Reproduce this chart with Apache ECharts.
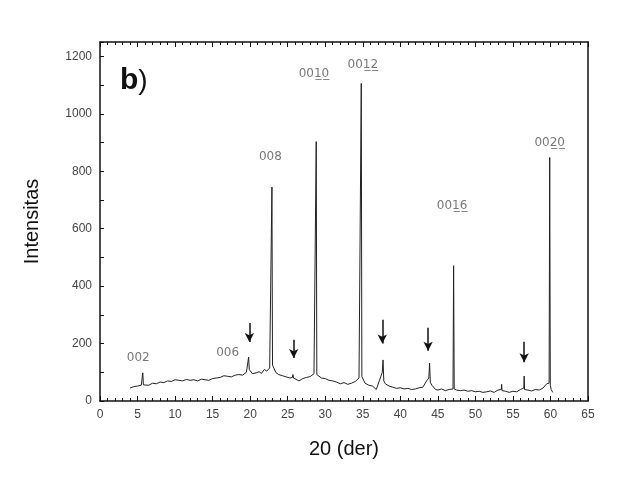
<!DOCTYPE html>
<html>
<head>
<meta charset="utf-8">
<script src="https://cdn.jsdelivr.net/npm/echarts@6/dist/echarts.min.js"></script>
<style>
html, body { margin: 0; padding: 0; background: #fff; }
#main { width: 634px; height: 485px; }
</style>
</head>
<body>
<div id="main"></div>
<script>
// pola difraksi (2theta, intensitas)
var xrdAngle = [4.0, 4.5, 5.0, 5.5, 5.62, 5.7, 5.78, 6.0, 6.5, 7.0, 7.5, 8.0, 8.5, 9.0, 9.5, 10.0, 10.5, 11.0, 11.5, 12.0,
    12.5, 13.0, 13.5, 14.0, 14.5, 15.0, 15.5, 16.0, 16.5, 17.0, 17.5, 18.0, 18.5, 19.0, 19.5, 19.72, 19.8, 19.88, 20.3, 20.8,
    21.2, 21.5, 21.9, 22.2, 22.6, 22.82, 22.9, 22.98, 23.4, 23.8, 24.3, 24.8, 25.3, 25.62, 25.7, 25.78, 26.0, 26.5, 27.0, 27.5,
    28.0, 28.5, 28.72, 28.8, 28.88, 29.5, 30.0, 30.5, 31.0, 31.5, 32.0, 32.5, 33.0, 33.5, 34.0, 34.5, 34.72, 34.8, 34.88, 35.3,
    35.8, 36.3, 36.8, 37.2, 37.6, 37.7, 37.8, 38.0, 38.5, 39.0, 39.5, 40.0, 40.5, 41.0, 41.5, 42.0, 42.5, 43.0, 43.5, 43.8,
    43.9, 44.0, 44.2, 44.7, 45.0, 45.5, 46.0, 46.5, 47.02, 47.1, 47.18, 47.5, 48.0, 48.5, 49.0, 49.5, 50.0, 50.5, 51.0, 51.5,
    52.0, 52.5, 53.0, 53.45, 53.5, 53.55, 54.0, 54.5, 55.0, 55.5, 56.0, 56.45, 56.5, 56.55, 57.0, 57.5, 58.0, 58.5, 59.0, 59.5,
    59.82, 59.9, 59.98, 60.1, 60.3];
var xrdIntensity = [45, 50, 52, 55, 56, 98, 56, 58, 55, 62, 60, 66, 64, 70, 68, 74, 72, 70, 75, 72,
    74, 70, 76, 74, 72, 78, 80, 82, 88, 86, 84, 90, 92, 90, 100, 105, 153, 110, 95, 98,
    102, 96, 110, 104, 115, 120, 745, 125, 100, 92, 88, 84, 80, 82, 92, 80, 75, 70, 78, 82,
    85, 95, 98, 903, 92, 80, 78, 72, 70, 66, 60, 64, 58, 62, 68, 80, 85, 1106, 85, 62,
    55, 52, 40, 70, 100, 143, 70, 60, 52, 48, 44, 46, 42, 44, 40, 42, 46, 48, 70, 80,
    132, 65, 55, 40, 38, 42, 36, 40, 42, 471, 42, 38, 36, 38, 34, 36, 32, 34, 30, 32,
    35, 30, 38, 40, 58, 36, 34, 30, 34, 32, 40, 45, 87, 40, 38, 35, 40, 38, 45, 60,
    62, 848, 55, 40, 30];

// label puncak (00l)
var peakNames = ['002', '006', '008', '0010', '0012', '0016', '0020'];
var peakLabelX = [5.1, 17.0, 22.7, 28.5, 35.0, 46.9, 59.9];
var peakLabelY = [150, 168, 850, 1140, 1170, 680, 900];

// panah (fasa lain)
var arrowX = [19.9, 25.8, 37.6, 43.7, 56.5];
var arrowTop = [272, 213, 283, 255, 206];
var arrowBottom = [205, 150, 200, 175, 135];

var yTicks = [0, 200, 400, 600, 800, 1000, 1200];

function underline(s) {
    // dua digit terakhir bergaris bawah
    if (s.length < 4) return s;
    var head = s.substring(0, 2), tail = s.substring(2);
    var out = head;
    for (var i = 0; i < tail.length; i++) out += tail[i] + '\u0332';
    return out;
}

var lineData = [];
for (var i = 0; i < xrdAngle.length; i++) lineData.push([xrdAngle[i], xrdIntensity[i]]);

var labelData = [];
for (var i = 0; i < peakNames.length; i++) labelData.push({ name: underline(peakNames[i]), value: [peakLabelX[i], peakLabelY[i]] });

var arrowData = [];
for (var i = 0; i < arrowX.length; i++) {
    arrowData.push([{ coord: [arrowX[i], arrowTop[i]] }, { coord: [arrowX[i], arrowBottom[i]] }]);
}

var axisFont = { fontFamily: 'Liberation Sans', fontSize: 12, color: '#444' };
var frameLine = { show: true, onZero: false, lineStyle: { color: '#111', width: 1.5 } };

var chart = echarts.init(document.getElementById('main'), null, { renderer: 'canvas' });
var option = {
    animation: false,
    backgroundColor: '#fff',
    grid: { left: 100, right: 46, top: 42, bottom: 84 },
    xAxis: [{
        type: 'value', min: 0, max: 65, interval: 5, position: 'bottom',
        name: '20 (der)', nameLocation: 'middle', nameGap: 38,
        nameTextStyle: { fontFamily: 'Liberation Sans', fontSize: 20, color: '#111' },
        axisLine: frameLine,
        axisTick: { inside: true, length: 5, lineStyle: { color: '#111' } },
        minorTick: { show: true, splitNumber: 5, length: 3, lineStyle: { color: '#111' } },
        axisLabel: axisFont,
        splitLine: { show: false }
    }, {
        type: 'value', min: 0, max: 65, interval: 5, position: 'top',
        axisLine: frameLine,
        axisTick: { inside: true, length: 5, lineStyle: { color: '#111' } },
        minorTick: { show: true, splitNumber: 5, length: 3, lineStyle: { color: '#111' } },
        axisLabel: { show: false },
        splitLine: { show: false }
    }],
    yAxis: [{
        type: 'value', min: 0, max: 1250, interval: 200, position: 'left',
        name: 'Intensitas', nameLocation: 'middle', nameGap: 58,
        nameTextStyle: { fontFamily: 'Liberation Sans', fontSize: 20, color: '#111' },
        axisLine: frameLine,
        axisTick: { show: true, inside: true, length: 4, lineStyle: { color: '#111' } },
        minorTick: { show: true, splitNumber: 2, length: 4, lineStyle: { color: '#111' } },
        axisLabel: Object.assign({ margin: 8, formatter: function (v) { return yTicks.indexOf(v) >= 0 ? String(v) : ''; } }, axisFont),
        splitLine: { show: false }
    }, {
        type: 'value', min: 0, max: 1250, position: 'right',
        axisLine: frameLine,
        axisTick: { show: false },
        axisLabel: { show: false },
        splitLine: { show: false }
    }],
    graphic: [{
        type: 'text', left: 120, top: 66,
        style: {
            text: '{b|b}{p|)}',
            rich: {
                b: { fontFamily: 'Liberation Sans', fontWeight: 'bold', fontSize: 30, fill: '#111' },
                p: { fontFamily: 'Liberation Sans', fontSize: 28, fill: '#111' }
            }
        }
    }],
    series: [{
        type: 'line', data: lineData, showSymbol: false, xAxisIndex: 0, yAxisIndex: 0,
        lineStyle: { color: '#222', width: 1 },
        markLine: {
            silent: true, symbol: ['none', 'arrow'], symbolSize: [7, 9],
            label: { show: false },
            lineStyle: { color: '#111', width: 1.5, type: 'solid' },
            data: arrowData
        }
    }, {
        type: 'scatter', data: labelData, symbolSize: 0, xAxisIndex: 0, yAxisIndex: 0,
        label: {
            show: true, position: 'inside', formatter: '{b}',
            fontFamily: 'DejaVu Sans', fontSize: 12, color: '#555'
        }
    }]
};
chart.setOption(option);
</script>
</body>
</html>
